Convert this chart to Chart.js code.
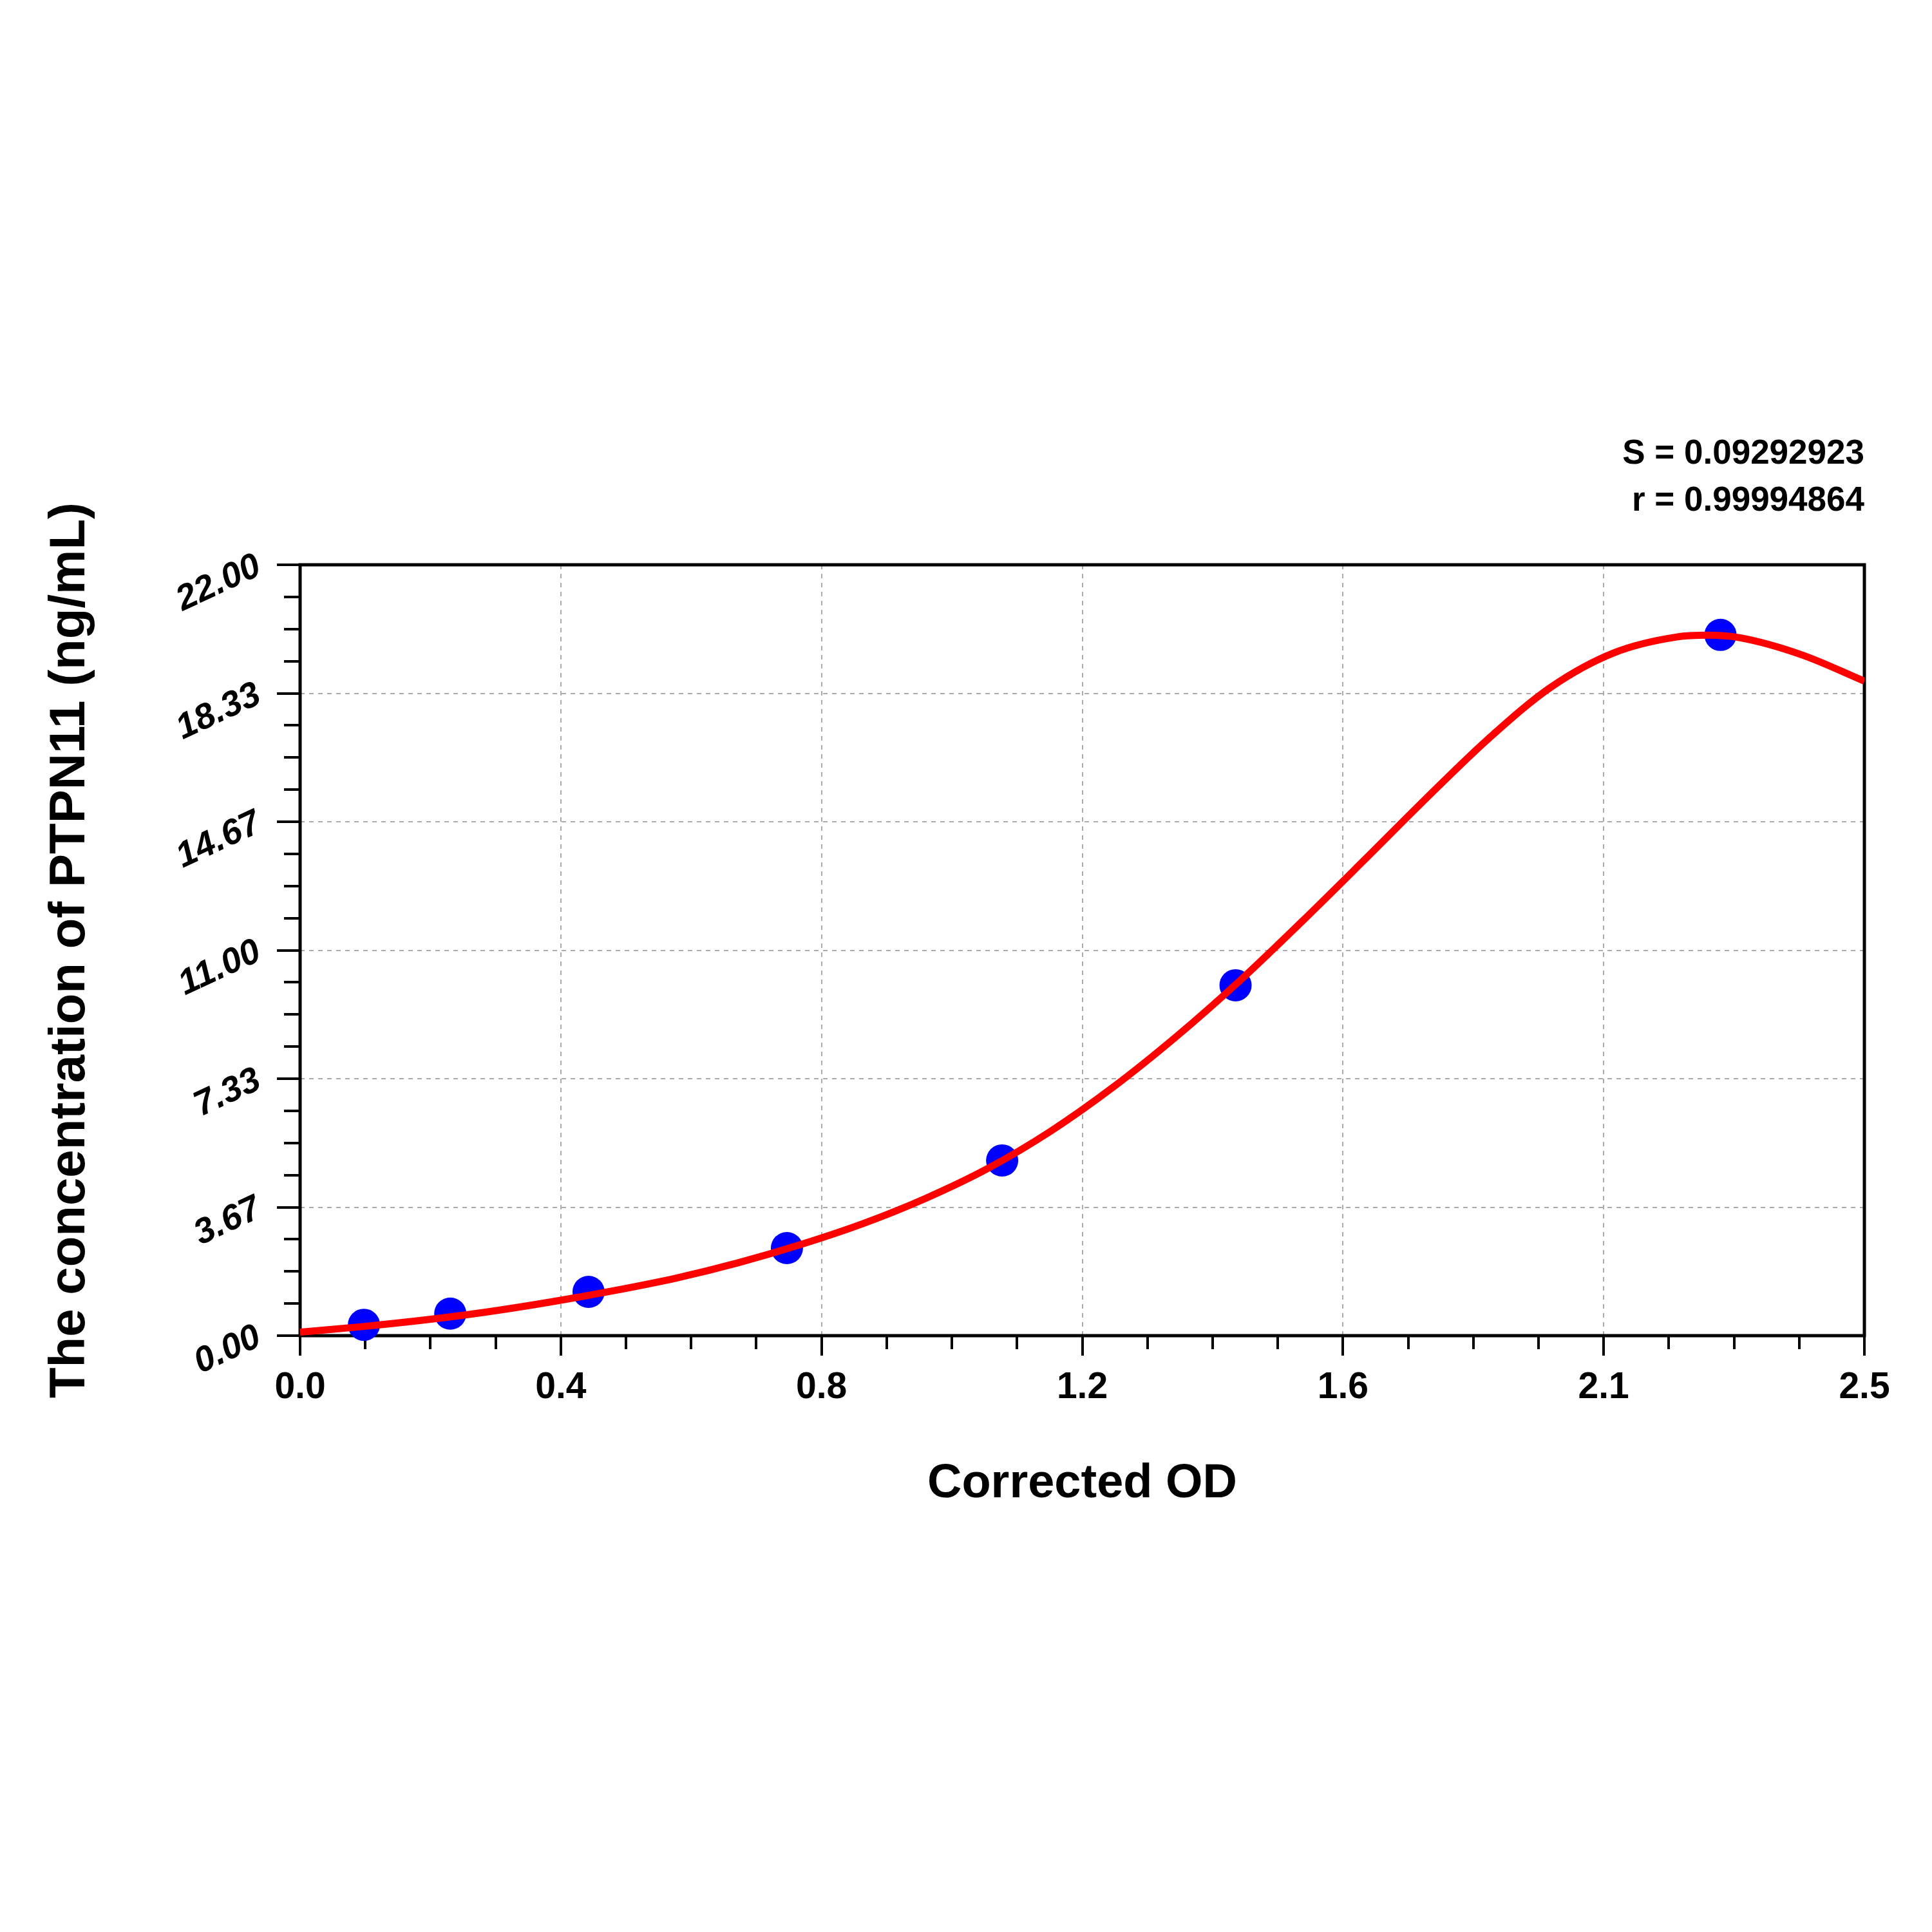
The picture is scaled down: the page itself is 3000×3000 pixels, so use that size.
<!DOCTYPE html>
<html>
<head>
<meta charset="utf-8">
<script src="https://cdn.jsdelivr.net/npm/chart.js@4.4.0/dist/chart.umd.min.js"></script>
<style>
html, body { margin: 0; padding: 0; background: #ffffff; }
#wrap { width: 3000px; height: 3000px; }
canvas { display: block; }
</style>
</head>
<body>
<div id="wrap"><canvas id="c" width="3000" height="3000"></canvas></div>
<script>
// ---- data ----
const standardOD   = [0.102, 0.240, 0.461, 0.778, 1.122, 1.495, 2.270];
const standardConc = [0.31, 0.63, 1.25, 2.5, 5, 10, 20];

const curveOD   = [0.0, 0.1, 0.2, 0.3, 0.4, 0.5, 0.6, 0.7, 0.8, 0.9, 1.0, 1.1, 1.2, 1.3, 1.4, 1.5, 1.6, 1.7, 1.8, 1.9, 2.0, 2.1, 2.2, 2.25, 2.3, 2.4, 2.5];
const curveConc = [0.10, 0.26, 0.45, 0.68, 0.96, 1.28, 1.64, 2.08, 2.60, 3.20, 3.92, 4.78, 5.84, 7.10, 8.53, 10.10, 11.80, 13.56, 15.34, 17.05, 18.52, 19.49, 19.94, 19.99, 19.92, 19.43, 18.68];

const xTickLabels = ["0.0", "0.4", "0.8", "1.2", "1.6", "2.1", "2.5"];
const yTickLabels = ["0.00", "3.67", "7.33", "11.00", "14.67", "18.33", "22.00"];
const fitStats = ["S = 0.09292923", "r = 0.99994864"];
const xTitle = "Corrected OD";
const yTitle = "The concentration of PTPN11 (ng/mL)";

const X_MAX = 2.5;
const Y_MAX = 22;
const MAJOR_COUNT = 6;
const MINOR_PER_MAJOR = 4;
const TICK_COUNT = MAJOR_COUNT * MINOR_PER_MAJOR;

// ---- styling ----
const FONT = '"Liberation Sans", Arial, Helvetica, sans-serif';
const isMajor = i => i % MINOR_PER_MAJOR === 0;
const gridColor = ctx => (isMajor(ctx.index) && ctx.index > 0 && ctx.index < TICK_COUNT) ? '#ababab' : 'rgba(0,0,0,0)';

const X_TICK_LEN = 31, X_MINOR_LEN = 21;
const Y_TICK_LEN = 36, Y_MINOR_LEN = 25;

const framePlugin = {
  id: 'frame',
  beforeDatasetsDraw(chart) {
    const a = chart.chartArea;
    const ctx = chart.ctx;
    ctx.save();
    ctx.strokeStyle = '#000000';
    ctx.lineWidth = 5;
    ctx.strokeRect(a.left, a.top, a.right - a.left, a.bottom - a.top);
    ctx.restore();
  }
};

const whiteBg = {
  id: 'whiteBg',
  beforeDraw(chart) {
    const ctx = chart.ctx;
    ctx.save();
    ctx.fillStyle = '#ffffff';
    ctx.fillRect(0, 0, chart.width, chart.height);
    ctx.restore();
  }
};

new Chart(document.getElementById('c'), {
  type: 'scatter',
  data: {
    datasets: [
      {
        label: 'fit',
        data: curveOD.map((x, i) => ({ x: x, y: curveConc[i] })),
        showLine: true,
        borderColor: '#ff0000',
        borderWidth: 11,
        pointRadius: 0,
        cubicInterpolationMode: 'monotone',
        order: 0
      },
      {
        label: 'standards',
        data: standardOD.map((x, i) => ({ x: x, y: standardConc[i] })),
        backgroundColor: '#0000ff',
        borderWidth: 0,
        pointRadius: 25,
        pointHoverRadius: 25,
        clip: false,
        order: 1
      }
    ]
  },
  options: {
    responsive: false,
    animation: false,
    devicePixelRatio: 1,
    layout: { padding: { top: 0, left: 0, right: 105, bottom: 626 } },
    plugins: {
      legend: { display: false },
      tooltip: { enabled: false },
      title: {
        display: true,
        text: fitStats,
        align: 'end',
        color: '#000000',
        font: { family: FONT, size: 53, weight: 'bold', lineHeight: 73 / 53 },
        padding: { top: 669, bottom: 62 }
      }
    },
    scales: {
      x: {
        type: 'linear',
        min: 0,
        max: X_MAX,
        afterBuildTicks: axis => {
          axis.ticks = Array.from({ length: TICK_COUNT + 1 }, (_, i) => ({ value: X_MAX * i / TICK_COUNT }));
        },
        afterFit: axis => { axis.height = 300; },
        border: { display: false, dash: [7, 7] },
        grid: {
          color: gridColor,
          lineWidth: 2,
          drawTicks: true,
          tickLength: X_TICK_LEN,
          tickWidth: 4,
          tickColor: '#000000',
          tickBorderDash: ctx => isMajor(ctx.index) ? [] : [X_MINOR_LEN, 1000],
          tickBorderDashOffset: 0
        },
        ticks: {
          autoSkip: false,
          minRotation: 0,
          maxRotation: 0,
          padding: 16,
          color: '#000000',
          font: { family: FONT, size: 57, weight: 'bold' },
          callback: (v, i) => isMajor(i) ? xTickLabels[i / MINOR_PER_MAJOR] : ''
        },
        title: {
          display: true,
          text: xTitle,
          color: '#000000',
          font: { family: FONT, size: 74, weight: 'bold' },
          padding: { top: 0, bottom: 25 }
        }
      },
      y: {
        type: 'linear',
        min: 0,
        max: Y_MAX,
        afterBuildTicks: axis => {
          axis.ticks = Array.from({ length: TICK_COUNT + 1 }, (_, i) => ({ value: Y_MAX * i / TICK_COUNT }));
        },
        afterFit: axis => { axis.width = 466; },
        border: { display: false, dash: [7, 7] },
        grid: {
          color: gridColor,
          lineWidth: 2,
          drawTicks: true,
          tickLength: Y_TICK_LEN,
          tickWidth: 4,
          tickColor: '#000000',
          tickBorderDash: ctx => isMajor(ctx.index) ? [] : [Y_MINOR_LEN, 1000],
          tickBorderDashOffset: ctx => isMajor(ctx.index) ? 0 : (Y_MINOR_LEN + 1000) - (Y_TICK_LEN - Y_MINOR_LEN)
        },
        ticks: {
          autoSkip: false,
          minRotation: 25,
          maxRotation: 25,
          padding: 28,
          color: '#000000',
          font: { family: FONT, size: 55, weight: 'bold', style: 'italic' },
          callback: (v, i) => isMajor(i) ? yTickLabels[i / MINOR_PER_MAJOR] : ''
        },
        title: {
          display: true,
          text: yTitle,
          color: '#000000',
          font: { family: FONT, size: 78, weight: 'bold' },
          padding: { top: 63, bottom: 0 }
        }
      }
    }
  },
  plugins: [whiteBg, framePlugin]
});
</script>
</body>
</html>
